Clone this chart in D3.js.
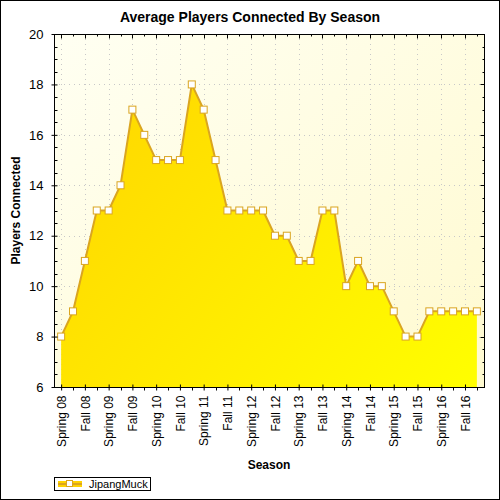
<!DOCTYPE html>
<html>
<head>
<meta charset="utf-8">
<script src="https://cdn.jsdelivr.net/npm/d3@7"></script>
<style>
  body { margin: 0; background: #fff; }
  svg { display: block; font-family: "Liberation Sans", Arial, sans-serif; }
</style>
</head>
<body>
<svg></svg>
<script>
// one point per season, labels only on Spring / Fall
var seasons = [];
var years = ["08", "09", "10", "11", "12", "13", "14", "15", "16"];
var seasonNames = ["Spring", "Summer", "Fall", "Winter"];
years.forEach(function(y) {
    seasonNames.forEach(function(s) { seasons.push(s + " " + y); });
});

var players = [8, 9, 11, 13, 13, 14, 17, 16, 15, 15, 15, 18, 17, 15, 13, 13, 13, 13,
               12, 12, 11, 11, 13, 13, 10, 11, 10, 10, 9, 8, 8, 9, 9, 9, 9, 9];

var yTicks = [6, 8, 10, 12, 14, 16, 18, 20];
var seriesName = "JipangMuck";

// note: "top" is taken by window.top, so plot edges get their own names
var width = 500, height = 500,
    plotL = 54, plotR = 484, plotT = 34, plotB = 387;

var svg = d3.select("svg").attr("width", width).attr("height", height);

var defs = svg.append("defs");
var bg = defs.append("linearGradient").attr("id", "bgGrad")
    .attr("x1", "0%").attr("y1", "0%").attr("x2", "100%").attr("y2", "100%");
bg.append("stop").attr("offset", "0%").attr("stop-color", "#fffff2");
bg.append("stop").attr("offset", "100%").attr("stop-color", "#fffad0");

var fillGrad = defs.append("linearGradient").attr("id", "fillGrad")
    .attr("gradientUnits", "userSpaceOnUse")
    .attr("x1", plotL).attr("y1", plotT).attr("x2", plotR).attr("y2", plotB);
fillGrad.append("stop").attr("offset", "0%").attr("stop-color", "#ffd200");
fillGrad.append("stop").attr("offset", "100%").attr("stop-color", "#ffff00");

// outer frame
svg.append("rect").attr("x", 0.5).attr("y", 0.5).attr("width", width - 1).attr("height", height - 1)
    .attr("fill", "#fff").attr("stroke", "#000");

var x = d3.scalePoint().domain(seasons).range([plotL, plotR]).padding(0.6);
var y = d3.scaleLinear().domain([6, 20]).range([plotB, plotT]);

svg.append("rect")
    .attr("x", plotL).attr("y", plotT)
    .attr("width", plotR - plotL).attr("height", plotB - plotT)
    .attr("fill", "url(#bgGrad)");

// dotted grid
var g = svg.append("g");
g.selectAll("line.hgrid")
    .data(yTicks.slice(1, -1))
    .join("line")
    .attr("class", "hgrid")
    .attr("x1", plotL).attr("x2", plotR)
    .attr("y1", d => Math.round(y(d)) + 0.5).attr("y2", d => Math.round(y(d)) + 0.5)
    .attr("stroke", "#c8c8c8").attr("stroke-dasharray", "1,4");
g.selectAll("line.vgrid")
    .data(seasons.filter((d, i) => i % 2 == 0))
    .join("line")
    .attr("class", "vgrid")
    .attr("x1", d => Math.round(x(d)) + 0.5).attr("x2", d => Math.round(x(d)) + 0.5)
    .attr("y1", plotT).attr("y2", plotB)
    .attr("stroke", "#c8c8c8").attr("stroke-dasharray", "1,4");

var area = d3.area()
    .x((d, i) => x(seasons[i]))
    .y0(y(6))
    .y1(d => y(d));
var line = d3.line()
    .x((d, i) => x(seasons[i]))
    .y(d => y(d));

g.append("path").datum(players).attr("d", area).attr("fill", "url(#fillGrad)");
g.append("path").datum(players).attr("d", line)
    .attr("fill", "none").attr("stroke", "#daa520").attr("stroke-width", 2);

g.selectAll("rect.pt")
    .data(players)
    .join("rect")
    .attr("class", "pt")
    .attr("x", (d, i) => x(seasons[i]) - 3.5)
    .attr("y", d => y(d) - 3.5)
    .attr("width", 7).attr("height", 7)
    .attr("fill", "#fff").attr("stroke", "#daa520").attr("stroke-width", 1);

// plot frame
svg.append("rect")
    .attr("x", plotL + 0.5).attr("y", plotT + 0.5)
    .attr("width", plotR - plotL).attr("height", plotB - plotT)
    .attr("fill", "none").attr("stroke", "#000");

// y axes: left with labels, right mirrored
var yMinor = d3.range(6, 20.01, 0.5).filter(d => d % 2 != 0);
var yAxis = d3.axisLeft(y).tickValues(yTicks).tickSize(3).tickPadding(8);
var yl = svg.append("g").attr("transform", "translate(" + (plotL + 0.5) + ",0)").call(yAxis);
yl.select(".domain").remove();
yl.selectAll(".tick line").attr("x2", 3).attr("x1", -3);
yl.selectAll(".tick text").attr("font-size", 13).attr("font-family", "Liberation Sans, Arial, sans-serif").attr("fill", "#000");
yl.selectAll("line.minor").data(yMinor).join("line").attr("class", "minor")
    .attr("x1", 0).attr("x2", 3)
    .attr("y1", d => Math.round(y(d)) + 0.5).attr("y2", d => Math.round(y(d)) + 0.5)
    .attr("stroke", "#000");

var yr = svg.append("g").attr("transform", "translate(" + (plotR + 0.5) + ",0)");
yr.selectAll("line").data(yTicks.concat(yMinor)).join("line")
    .attr("x1", d => yTicks.includes(d) ? -4 : -2).attr("x2", 0)
    .attr("y1", d => Math.round(y(d)) + 0.5).attr("y2", d => Math.round(y(d)) + 0.5)
    .attr("stroke", "#000");

// x axes
var xAxis = d3.axisBottom(x)
    .tickValues(seasons.filter((d, i) => i % 2 == 0))
    .tickSize(3).tickPadding(6);
var xb = svg.append("g").attr("transform", "translate(0," + (plotB + 0.5) + ")").call(xAxis);
xb.select(".domain").remove();
xb.selectAll(".tick line").attr("y1", -3).attr("y2", 3);
xb.selectAll(".tick text")
    .attr("font-size", 12).attr("font-family", "Liberation Sans, Arial, sans-serif").attr("fill", "#000")
    .attr("transform", "rotate(-90)")
    .attr("text-anchor", "end")
    .attr("x", -8).attr("y", 0).attr("dy", "0.35em");
xb.selectAll("line.minor").data(seasons.filter((d, i) => i % 2 == 1)).join("line").attr("class", "minor")
    .attr("x1", d => Math.round(x(d)) + 0.5).attr("x2", d => Math.round(x(d)) + 0.5)
    .attr("y1", 0).attr("y2", 3).attr("stroke", "#000");

var xt = svg.append("g").attr("transform", "translate(0," + (plotT + 0.5) + ")");
xt.selectAll("line").data(seasons).join("line")
    .attr("x1", d => Math.round(x(d)) + 0.5).attr("x2", d => Math.round(x(d)) + 0.5)
    .attr("y1", 0).attr("y2", (d, i) => i % 2 == 0 ? 4 : 2).attr("stroke", "#000");

// titles
svg.append("text").attr("x", 250).attr("y", 22).attr("text-anchor", "middle")
    .attr("font-size", 14).attr("font-weight", "bold").text("Average Players Connected By Season");
svg.append("text").attr("transform", "translate(20," + ((plotT + plotB) / 2) + ") rotate(-90)")
    .attr("text-anchor", "middle").attr("font-size", 12).attr("font-weight", "bold")
    .text("Players Connected");
svg.append("text").attr("x", (plotL + plotR) / 2).attr("y", 469).attr("text-anchor", "middle")
    .attr("font-size", 12).attr("font-weight", "bold").text("Season");

// legend
var lg = svg.append("g").attr("transform", "translate(54,477)");
lg.append("rect").attr("x", 0.5).attr("y", 0.5).attr("width", 96).attr("height", 13)
    .attr("fill", "#fff").attr("stroke", "#000");
lg.append("rect").attr("x", 4).attr("y", 4).attr("width", 24).attr("height", 6).attr("fill", "url(#fillGrad)");
lg.append("line").attr("x1", 4).attr("x2", 28).attr("y1", 7).attr("y2", 7)
    .attr("stroke", "#daa520").attr("stroke-width", 2);
lg.append("rect").attr("x", 12.5).attr("y", 3.5).attr("width", 6).attr("height", 6)
    .attr("fill", "#fff").attr("stroke", "#daa520");
lg.append("text").attr("x", 35).attr("y", 11).attr("font-size", 11).text(seriesName);
</script>
</body>
</html>
